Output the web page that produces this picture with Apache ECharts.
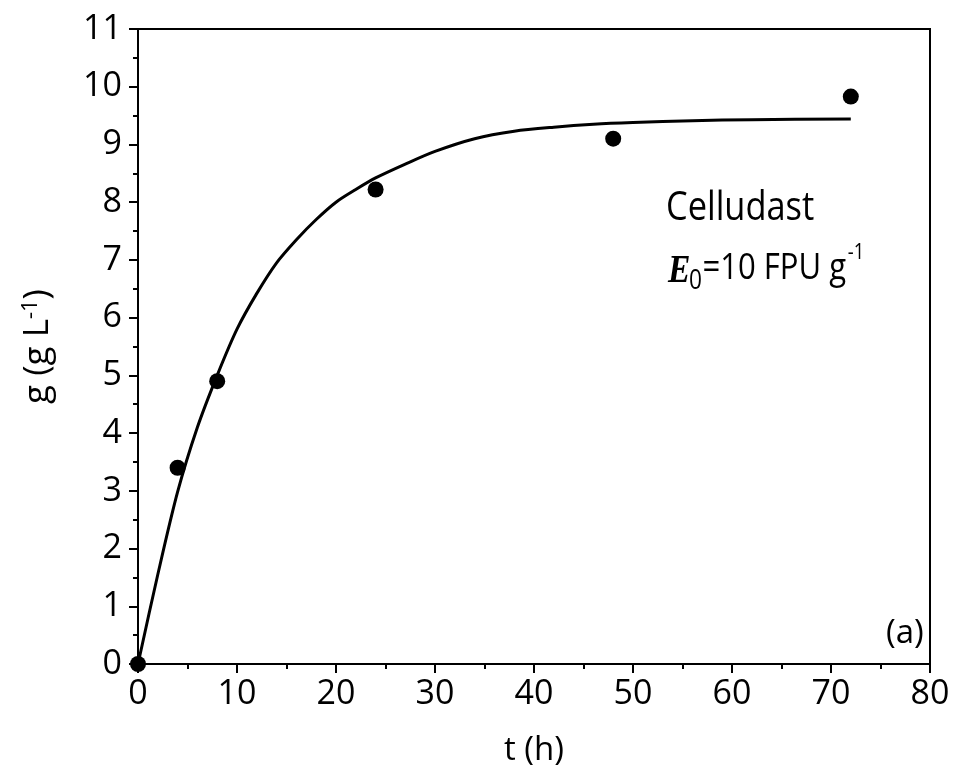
<!DOCTYPE html>
<html>
<head>
<meta charset="utf-8">
<script src="https://cdn.jsdelivr.net/npm/echarts@6/dist/echarts.min.js"></script>
<style>
  html, body { margin: 0; padding: 0; background: #fff; }
  #chart { width: 955px; height: 775px; }
</style>
</head>
<body>
<div id="chart"></div>
<script>
// measured points (t in h, g in g/L)
const expT = [0, 4, 8, 24, 48, 72];
const expG = [0, 3.4, 4.9, 8.22, 9.1, 9.83];

// fitted curve
const fitT = [0, 2, 4, 6, 8, 10, 12, 14, 16, 18, 20, 22, 24, 27, 30, 34, 38, 42, 46, 50, 56, 62, 72];
const fitG = [0, 1.55, 2.98, 4.1, 5.0, 5.8, 6.42, 6.95, 7.35, 7.7, 8.0, 8.22, 8.42, 8.66, 8.88, 9.1, 9.23, 9.3, 9.35, 9.38, 9.41, 9.43, 9.44];

const xTicks = [0, 80, 10];
const yTicks = [0, 11, 1];

const fontMain = '"Open Sans", "DejaVu Sans", sans-serif';

let chart = echarts.init(document.getElementById('chart'));

let axisCommon = {
  axisLine: { show: true, onZero: false, lineStyle: { color: '#000', width: 2 } },
  axisTick: { show: true, inside: false, length: 9, lineStyle: { color: '#000', width: 2 } },
  minorTick: { show: true, splitNumber: 2, length: 5, lineStyle: { color: '#000', width: 2 } },
  splitLine: { show: false },
  axisLabel: { color: '#000', fontSize: 34, fontFamily: fontMain }
};

let option = {
  animation: false,
  backgroundColor: '#fff',
  grid: {
    left: 138, right: 25, top: 29, bottom: 111,
    show: true, borderColor: '#000', borderWidth: 2
  },
  xAxis: Object.assign({}, axisCommon, {
    type: 'value',
    min: xTicks[0], max: xTicks[1], interval: xTicks[2],
    name: 't (h)',
    nameLocation: 'middle',
    nameGap: 70,
    nameTextStyle: { color: '#000', fontSize: 33, fontFamily: fontMain },
    axisLabel: Object.assign({}, axisCommon.axisLabel, { margin: 13 })
  }),
  yAxis: Object.assign({}, axisCommon, {
    type: 'value',
    min: yTicks[0], max: yTicks[1], interval: yTicks[2],
    name: '{a|g (g L}{s|-1}{a|)}',
    nameLocation: 'middle',
    nameGap: 82,
    nameTextStyle: {
      color: '#000',
      rich: {
        a: { fontSize: 35, fontFamily: fontMain, color: '#000' },
        s: { fontSize: 22, fontFamily: fontMain, color: '#000', verticalAlign: 'top', padding: [0, 0, 14, 0] }
      }
    },
    axisLabel: Object.assign({}, axisCommon.axisLabel, { margin: 16 })
  }),
  series: [
    {
      name: 'fit',
      type: 'line',
      data: fitT.map((t, i) => [t, fitG[i]]),
      smooth: 0.3,
      showSymbol: false,
      lineStyle: { color: '#000', width: 3 },
      z: 2
    },
    {
      name: 'data',
      type: 'scatter',
      data: expT.map((t, i) => [t, expG[i]]),
      symbol: 'circle',
      symbolSize: 16,
      itemStyle: { color: '#000', opacity: 1 },
      z: 3
    }
  ],
  graphic: [
    {
      type: 'text', left: 666, top: 189, scaleX: 0.86,
      style: { text: 'Celludast', font: '40px ' + fontMain, fill: '#000' }
    },
    {
      type: 'group', left: 668, top: 242, scaleX: 0.84,
      children: [
        { type: 'text', x: 0, y: 0, style: { text: 'E', font: 'italic bold 40px "Liberation Serif", serif', fill: '#000' } },
        { type: 'text', x: 25, y: 16, style: { text: '0', font: '27px ' + fontMain, fill: '#000' } },
        { type: 'text', x: 41, y: -2, style: { text: '=10 FPU g', font: '37px ' + fontMain, fill: '#000' } },
        { type: 'text', x: 214, y: -10, style: { text: '-1', font: '22px ' + fontMain, fill: '#000' } }
      ]
    },
    {
      type: 'text', left: 886, top: 617,
      style: { text: '(a)', font: '33px ' + fontMain, fill: '#000' }
    }
  ]
};

chart.setOption(option);
</script>
</body>
</html>
